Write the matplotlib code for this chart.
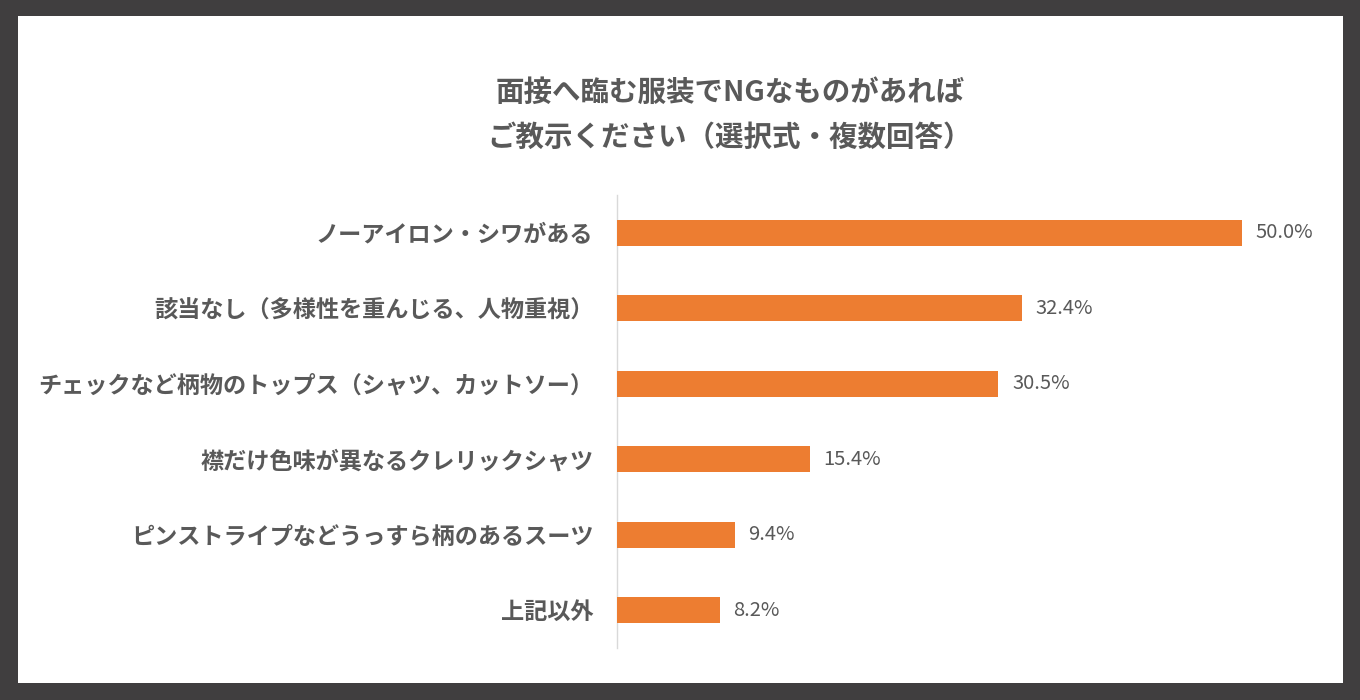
import matplotlib.pyplot as plt
from matplotlib.patches import Rectangle

plt.rcParams["font.family"] = ["Noto Sans CJK JP", "DejaVu Sans"]

title = "面接へ臨む服装でNGなものがあれば\nご教示ください（選択式・複数回答）"
categories = [
    "ノーアイロン・シワがある",
    "該当なし（多様性を重んじる、人物重視）",
    "チェックなど柄物のトップス（シャツ、カットソー）",
    "襟だけ色味が異なるクレリックシャツ",
    "ピンストライプなどうっすら柄のあるスーツ",
    "上記以外",
]
values = [50.0, 32.4, 30.5, 15.4, 9.4, 8.2]

text_color = "#595959"
bar_color = "#ED7D31"

W, H = 1360, 700
fig = plt.figure(figsize=(W / 100, H / 100), dpi=100)
fig.patch.set_facecolor("#403e3f")
fig.patches.append(Rectangle((18 / W, 1 - 683 / H), (1343 - 18) / W, (683 - 16) / H,
                             transform=fig.transFigure, facecolor="white",
                             edgecolor="none", zorder=-1))

fig.text(730 / W, 1 - 115 / H, title, ha="center", va="center", fontsize=20.5,
         fontweight="bold", color=text_color, linespacing=1.78)

# axes: left edge at x=617, y from 195 to 648
ax = fig.add_axes([617 / W, 1 - 648 / H, (1342 - 617) / W, (648 - 195) / H])
ax.set_zorder(2)
ax.set_facecolor("none")
y = list(range(len(categories)))
ax.barh(y, values, height=0.35, color=bar_color, zorder=3)
ax.set_ylim(len(categories) - 0.5, -0.5)
ax.set_xlim(0, 58)
ax.set_yticks(y)
ax.set_yticklabels(categories, fontsize=16.7, fontweight="bold", color=text_color)
ax.tick_params(axis="y", length=0, pad=17)
ax.set_xticks([])
for s in ["top", "right", "bottom"]:
    ax.spines[s].set_visible(False)
ax.spines["left"].set_color("#d9d9d9")
ax.spines["left"].set_linewidth(1)

for yi, v in zip(y, values):
    ax.text(v + 1.1, yi, f"{v:.1f}%", va="center", ha="left", fontsize=14.5,
            color=text_color)

fig.savefig("out.png", dpi=100, facecolor=fig.get_facecolor())
